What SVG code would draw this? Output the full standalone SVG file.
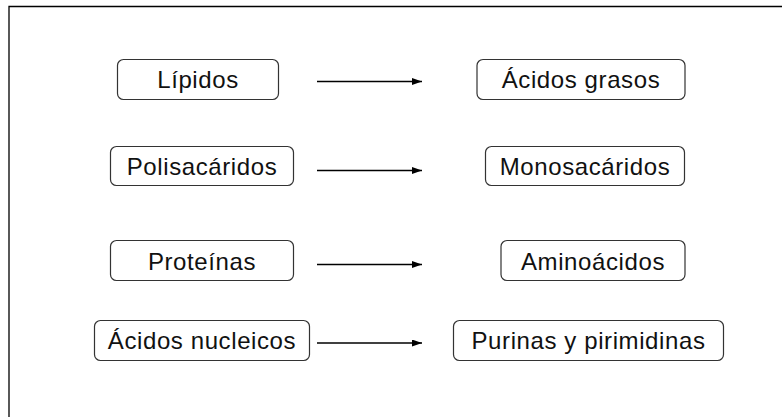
<svg xmlns="http://www.w3.org/2000/svg" width="782" height="417" viewBox="0 0 782 417">
<defs>
<style>
.box{fill:#fff;stroke:#333;stroke-width:1.2}
.t{font-family:"Liberation Sans",Arial,sans-serif;font-size:24px;letter-spacing:0.6px;fill:#111;text-anchor:middle}
.c{stroke:#000;stroke-width:1.6;fill:none}
</style>
<marker id="ah" markerWidth="10" markerHeight="7" refX="10" refY="3.5" orient="auto" markerUnits="userSpaceOnUse">
<path d="M0,0 L10,3.5 L0,7 Z" fill="#000"/>
</marker>
</defs>
<rect width="782" height="417" fill="#fff"/>
<path d="M9,417 V6.5 H782" fill="none" stroke="#000" stroke-width="1.3"/>
<g id="lipidos"><rect class="box" x="117.5" y="59.5" width="161" height="40" rx="6"/><text class="t" x="198" y="87.5">Lípidos</text></g>
<g id="acidos-grasos"><rect class="box" x="477" y="59.5" width="208" height="40" rx="6"/><text class="t" x="581" y="87.5">Ácidos grasos</text></g>
<g id="polisacaridos"><rect class="box" x="110.5" y="146.5" width="183" height="39" rx="6"/><text class="t" x="202" y="175">Polisacáridos</text></g>
<g id="monosacaridos"><rect class="box" x="485.5" y="146.5" width="199" height="39" rx="6"/><text class="t" x="585" y="175">Monosacáridos</text></g>
<g id="proteinas"><rect class="box" x="110.5" y="240.5" width="183" height="40" rx="6"/><text class="t" x="202" y="269.5">Proteínas</text></g>
<g id="aminoacidos"><rect class="box" x="501" y="240.5" width="184" height="40" rx="6"/><text class="t" x="593" y="269.5">Aminoácidos</text></g>
<g id="acidos-nucleicos"><rect class="box" x="94.5" y="320.5" width="215" height="40" rx="6"/><text class="t" x="202" y="348.5">Ácidos nucleicos</text></g>
<g id="purinas"><rect class="box" x="453.5" y="320.5" width="270" height="40" rx="6"/><text class="t" x="588.5" y="348.5">Purinas y pirimidinas</text></g>
<g id="connectors">
<line class="c" x1="317" y1="81.5" x2="422" y2="81.5" marker-end="url(#ah)"/>
<line class="c" x1="317" y1="170.5" x2="422" y2="170.5" marker-end="url(#ah)"/>
<line class="c" x1="317" y1="264.5" x2="422" y2="264.5" marker-end="url(#ah)"/>
<line class="c" x1="317" y1="343" x2="422" y2="343" marker-end="url(#ah)"/>
</g>
</svg>
